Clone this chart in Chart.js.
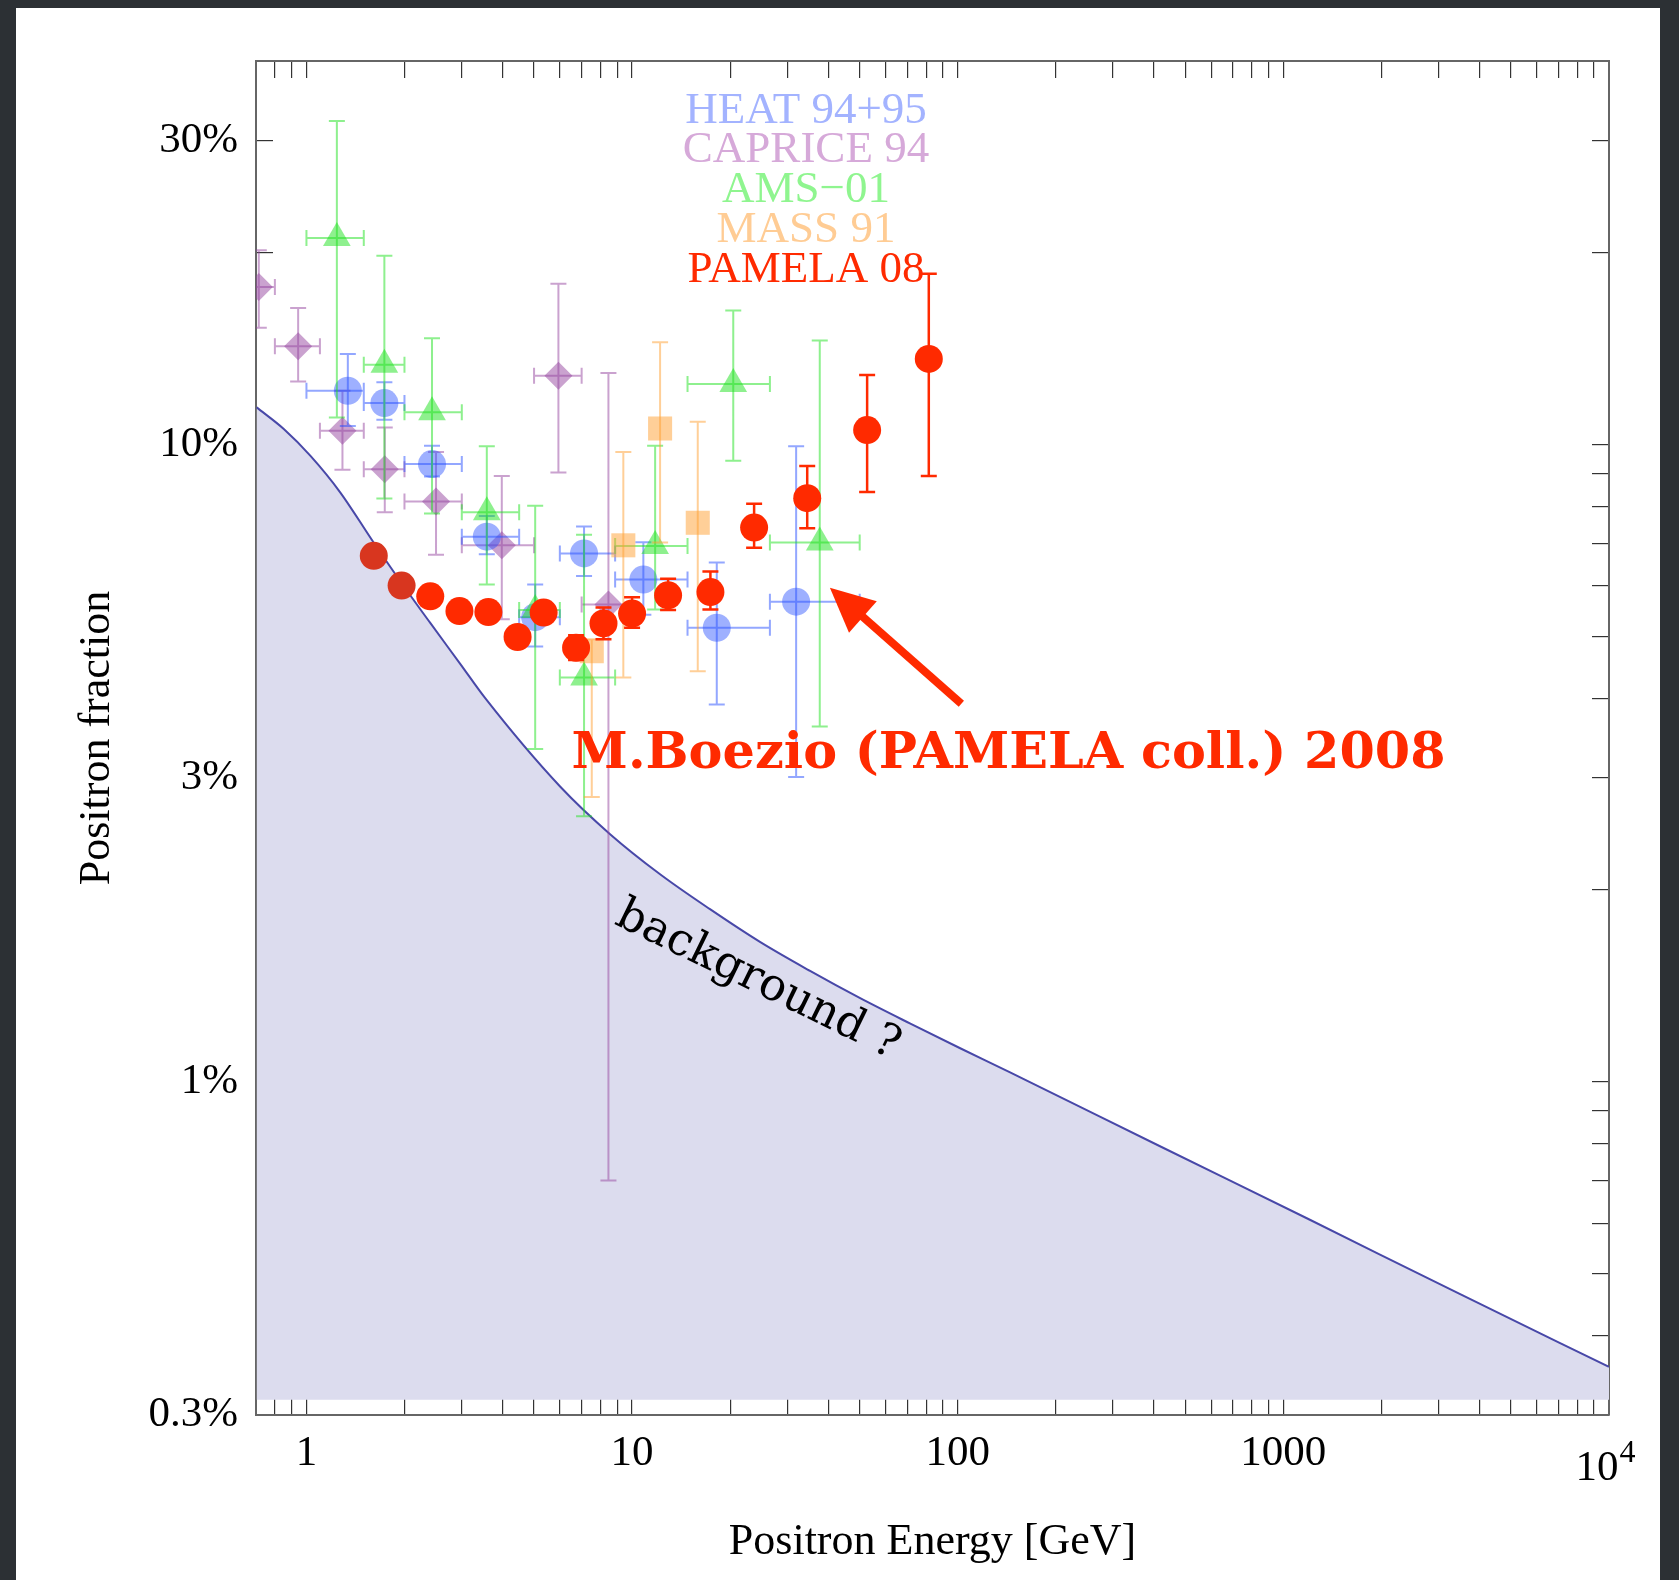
<!DOCTYPE html>
<html>
<head>
<meta charset="utf-8">
<script src="https://cdn.jsdelivr.net/npm/chart.js@4.4.1/dist/chart.umd.min.js"></script>
<style>
html,body{margin:0;padding:0;}
body{width:1679px;height:1580px;background:#2c3034;position:relative;overflow:hidden;}
#panel{position:absolute;left:16px;top:8px;width:1644px;height:1572px;background:#fff;}
canvas{display:block;}
</style>
</head>
<body>
<div id="panel"><canvas id="positronChart" width="1644" height="1572"></canvas></div>
<script>

// =========================
// DATOS (energia en GeV, fraccion en %)
// =========================

const pamelaE  = [1.61, 1.96, 2.40, 2.95, 3.62, 4.45, 5.35, 6.73, 8.17, 10.0, 12.9, 17.4, 23.7, 34.5, 52.7, 81.5];
const pamelaP  = [6.69, 6.01, 5.78, 5.48, 5.46, 4.99, 5.45, 4.80, 5.24, 5.43, 5.80, 5.87, 7.41, 8.24, 10.54, 13.63];
const pamelaLo = [null, null, null, null, null, null, null, 4.59, 4.95, 5.16, 5.50, 5.51, 6.89, 7.39, 8.43, 8.93];
const pamelaHi = [null, null, null, null, null, null, null, 5.02, 5.55, 5.76, 6.16, 6.32, 8.08, 9.26, 12.86, 18.54];

const heatE   = [1.34, 1.735, 2.43, 3.58, 5.04, 7.12, 10.83, 18.2, 31.9];
const heatP   = [12.15, 11.62, 9.32, 7.17, 5.36, 6.75, 6.14, 5.16, 5.67];
const heatELo = [1.0, 1.5, 2.0, 3.0, 4.5, 6.0, 8.87, 14.8, 26.5];
const heatEHi = [1.5, 2.0, 3.0, 4.5, 6.0, 8.87, 14.8, 26.5, 50];
const heatLo  = [10.7, 10.94, 8.91, 6.73, 4.82, 6.22, 5.41, 3.91, 3.01];
const heatHi  = [13.87, 12.53, 9.96, 7.73, 6.03, 7.44, 7.03, 6.53, 9.94];

const capriceE   = [0.714, 0.943, 1.29, 1.74, 2.50, 3.98, 5.94, 8.46];
const capriceP   = [17.67, 14.27, 10.51, 9.15, 8.14, 6.95, 12.83, 5.61];
const capriceELo = [0.62, 0.80, 1.10, 1.5, 2.0, 3.0, 5.0, 7.0];
const capriceEHi = [0.80, 1.10, 1.5, 2.0, 3.0, 5.0, 7.0, 10.0];
const capriceLo  = [15.25, 12.56, 9.13, 7.83, 6.72, 5.32, 9.04, 0.70];
const capriceHi  = [20.18, 16.38, 12.15, 10.64, 9.74, 8.93, 17.88, 12.95];

const amsE   = [1.24, 1.735, 2.43, 3.58, 5.04, 7.12, 11.77, 20.45, 37.7];
const amsP   = [21.1, 13.35, 11.24, 7.83, 5.50, 4.31, 6.93, 12.45, 7.02];
const amsELo = [1.0, 1.5, 2.0, 3.0, 4.5, 6.0, 8.87, 14.8, 26.5];
const amsEHi = [1.5, 2.0, 3.0, 4.5, 6.0, 8.87, 14.8, 26.5, 50];
const amsLo  = [11.03, 8.23, 7.80, 6.03, 3.33, 2.61, 5.51, 9.43, 3.61];
const amsHi  = [32.2, 19.79, 14.69, 9.94, 8.02, 7.22, 9.96, 16.24, 14.57];

const massE  = [7.52, 9.40, 12.19, 15.91];
const massP  = [4.74, 6.95, 10.60, 7.54];
const massLo = [2.80, 4.31, 7.02, 4.41];
const massHi = [4.95, 9.74, 14.48, 10.86];

const backgroundE = [0.703, 0.852, 1.029, 1.271, 1.608, 1.988, 2.40, 2.97, 3.54, 6.01, 8.56, 12.19,
                     17.35, 24.7, 35.2, 50.0, 71.3, 101.4, 144.3, 416.5, 1202, 3466, 10000];
const backgroundP = [11.44, 10.58, 9.60, 8.41, 7.02, 6.00, 5.25, 4.525, 4.00, 2.907, 2.447, 2.117,
                     1.866, 1.658, 1.493, 1.354, 1.235, 1.130, 1.036, 0.793, 0.608, 0.465, 0.357];

const legendNames = ["HEAT 94+95", "CAPRICE 94", "AMS\u221201", "MASS 91", "PAMELA 08"];

const xTickValues = [1, 10, 100, 1000];
const xTickLabels = ["1", "10", "100", "1000"];
const yTickValues = [0.3, 1, 3, 10, 30];
const yTickLabels = ["0.3%", "1%", "3%", "10%", "30%"];

// =========================
// AYUDAS
// =========================

const serif = '"Liberation Serif", "Times New Roman", serif';
const slab = '"DejaVu Serif", serif';

function points(xs, ys){
    return xs.map((x, i) => ({x: x, y: ys[i]}));
}

function bars(xLo, xHi, yLo, yHi){
    return yLo.map((_, i) => ({
        xLo: xLo ? xLo[i] : null,
        xHi: xHi ? xHi[i] : null,
        yLo: yLo[i],
        yHi: yHi[i]
    }));
}

function logTicks(lo, hi){
    const out = [];
    for (let d = -1; d <= 4; d++){
        for (let m = 1; m <= 9; m++){
            const v = +(m * Math.pow(10, d)).toPrecision(3);
            if (v >= lo && v <= hi) out.push(v);
        }
    }
    return out;
}

const xMin = 0.7, xMax = 10000;
const yMin = 0.3, yMax = 40;

// =========================
// PLUGINS
// =========================

const errorBars = {
    id: "errorBars",
    beforeDatasetDraw(chart, args){
        const ds = chart.data.datasets[args.index];
        if (!ds.errorBars) return;
        const ctx = chart.ctx, a = chart.chartArea;
        const xs = chart.scales.x, ys = chart.scales.y;
        const cap = ds.capSize;
        ctx.save();
        ctx.beginPath();
        ctx.rect(a.left, a.top, a.right - a.left, a.bottom - a.top);
        ctx.clip();
        ctx.beginPath();
        ds.errorBars.forEach((e, i) => {
            const px = xs.getPixelForValue(ds.data[i].x);
            const py = ys.getPixelForValue(ds.data[i].y);
            if (e.yLo != null){
                const y1 = ys.getPixelForValue(e.yLo), y2 = ys.getPixelForValue(e.yHi);
                ctx.moveTo(px, y1); ctx.lineTo(px, y2);
                ctx.moveTo(px - cap, y1); ctx.lineTo(px + cap, y1);
                ctx.moveTo(px - cap, y2); ctx.lineTo(px + cap, y2);
            }
            if (e.xLo != null){
                const x1 = xs.getPixelForValue(e.xLo), x2 = xs.getPixelForValue(e.xHi);
                ctx.moveTo(x1, py); ctx.lineTo(x2, py);
                ctx.moveTo(x1, py - cap); ctx.lineTo(x1, py + cap);
                ctx.moveTo(x2, py - cap); ctx.lineTo(x2, py + cap);
            }
        });
        ctx.strokeStyle = ds.errorColor;
        ctx.lineWidth = ds.errorWidth;
        ctx.stroke();
        ctx.restore();
    }
};

const annotations = {
    id: "annotations",
    afterDraw(chart){
        const ctx = chart.ctx, a = chart.chartArea;
        const xs = chart.scales.x, ys = chart.scales.y;
        ctx.save();

        // leyenda de colores
        const legendColors = ["#a3b3ff", "#d6a9d9", "#8ff58f", "#ffcc94", "#ff2a00"];
        const legendRows = [62, 101, 141, 181, 221];
        ctx.font = "45px " + serif;
        ctx.textAlign = "center";
        ctx.textBaseline = "alphabetic";
        legendNames.forEach((t, i) => {
            ctx.fillStyle = legendColors[i];
            ctx.fillText(t, xs.getPixelForValue(34.2), a.top + legendRows[i]);
        });

        // 10^4
        const px4 = xs.getPixelForValue(10000);
        ctx.fillStyle = "#000";
        ctx.font = "43px " + serif;
        ctx.textAlign = "center";
        const w10 = ctx.measureText("10").width;
        ctx.fillText("10", px4 - 12, xs.top + 65);
        ctx.font = "32px " + serif;
        ctx.textAlign = "left";
        ctx.fillText("4", px4 - 12 + w10 / 2 + 1, xs.top + 47);

        // flecha
        const tx = xs.getPixelForValue(102.6), ty = ys.getPixelForValue(3.92);
        const hx = xs.getPixelForValue(40.5), hy = ys.getPixelForValue(5.96);
        const ang = Math.atan2(hy - ty, hx - tx);
        const headLen = 44, headW = 21;
        const bx = hx - Math.cos(ang) * headLen, by = hy - Math.sin(ang) * headLen;
        ctx.strokeStyle = "#ff2a00";
        ctx.fillStyle = "#ff2a00";
        ctx.lineWidth = 8;
        ctx.beginPath();
        ctx.moveTo(tx, ty);
        ctx.lineTo(bx + Math.cos(ang) * 4, by + Math.sin(ang) * 4);
        ctx.stroke();
        ctx.beginPath();
        ctx.moveTo(hx, hy);
        ctx.lineTo(bx + Math.sin(ang) * headW, by - Math.cos(ang) * headW);
        ctx.lineTo(bx - Math.sin(ang) * headW, by + Math.cos(ang) * headW);
        ctx.closePath();
        ctx.fill();

        // autor
        ctx.font = "bold 51px " + slab;
        ctx.textAlign = "left";
        ctx.fillText("M.Boezio (PAMELA coll.) 2008", xs.getPixelForValue(6.52), ys.getPixelForValue(3.11), 874);

        // background ?
        ctx.translate(xs.getPixelForValue(24.3), ys.getPixelForValue(1.44));
        ctx.rotate(26 * Math.PI / 180);
        ctx.font = "45px " + slab;
        ctx.textAlign = "center";
        ctx.textBaseline = "middle";
        ctx.fillStyle = "#000";
        ctx.fillText("background ?", 0, 0, 310);

        ctx.restore();
    }
};

// =========================
// EJES
// =========================

const xTicks = logTicks(0.8, 10000);
const yTicks = logTicks(0.3, 40);

const tickGrid = {
    drawOnChartArea: false,
    drawTicks: true,
    tickLength: -17,
    color: "#333",
    lineWidth: 1.2
};

const frame = {
    display: true,
    color: "#666",
    width: 2
};

function fixWidth(w){
    return s => { s.width = w; s.paddingTop = 0; s.paddingBottom = 0; };
}

function fixHeight(h){
    return s => { s.height = h; s.paddingLeft = 0; s.paddingRight = 0; };
}

// =========================
// GRAFICO
// =========================

new Chart(
document.getElementById("positronChart"),
{

    type: "scatter",

    data: {

        datasets: [

            {
                label: "PAMELA 08",
                data: points(pamelaE, pamelaP),
                errorBars: bars(null, null, pamelaLo, pamelaHi),
                errorColor: "#ff2a00",
                errorWidth: 2.5,
                capSize: 8,
                pointStyle: "circle",
                pointRadius: 14,
                pointBorderWidth: 0,
                pointBackgroundColor: pamelaE.map((_, i) => i < 2 ? "#d8361f" : "#ff2a00"),
                order: 0
            },

            {
                label: "MASS 91",
                data: points(massE, massP),
                errorBars: bars(null, null, massLo, massHi),
                errorColor: "rgba(255,160,50,0.5)",
                errorWidth: 2,
                capSize: 8,
                pointStyle: "rect",
                pointRadius: 17,
                pointBorderWidth: 0,
                pointBackgroundColor: "rgba(255,160,50,0.5)",
                order: 1
            },

            {
                label: "AMS-01",
                data: points(amsE, amsP),
                errorBars: bars(amsELo, amsEHi, amsLo, amsHi),
                errorColor: "rgba(30,225,30,0.5)",
                errorWidth: 2,
                capSize: 8,
                pointStyle: "triangle",
                pointRadius: 16,
                pointBorderWidth: 0,
                pointBackgroundColor: "rgba(30,225,30,0.5)",
                order: 2
            },

            {
                label: "HEAT 94+95",
                data: points(heatE, heatP),
                errorBars: bars(heatELo, heatEHi, heatLo, heatHi),
                errorColor: "rgba(40,80,255,0.5)",
                errorWidth: 2,
                capSize: 8,
                pointStyle: "circle",
                pointRadius: 14,
                pointBorderWidth: 0,
                pointBackgroundColor: "rgba(40,80,255,0.45)",
                order: 3
            },

            {
                label: "CAPRICE 94",
                data: points(capriceE, capriceP),
                errorBars: bars(capriceELo, capriceEHi, capriceLo, capriceHi),
                errorColor: "rgba(150,70,160,0.5)",
                errorWidth: 2,
                capSize: 8,
                pointStyle: "rectRot",
                pointRadius: 14,
                pointBorderWidth: 0,
                pointBackgroundColor: "rgba(150,70,160,0.5)",
                order: 4
            },

            {
                label: "background",
                data: points(backgroundE, backgroundP),
                showLine: true,
                borderColor: "#4848a8",
                borderWidth: 2,
                backgroundColor: "rgb(220,220,238)",
                fill: {value: 0.317},
                cubicInterpolationMode: "monotone",
                pointRadius: 0,
                order: 10
            }
        ]
    },

    options: {

        responsive: false,
        animation: false,
        devicePixelRatio: 1,

        layout: {
            padding: 0
        },

        plugins: {
            legend: {display: false},
            tooltip: {enabled: false}
        },

        scales: {

            x: {
                type: "logarithmic",
                position: "bottom",
                min: xMin,
                max: xMax,
                z: 1,
                afterBuildTicks: s => { s.ticks = xTicks.map(v => ({value: v})); },
                afterFit: fixHeight(165),
                grid: tickGrid,
                border: frame,
                ticks: {
                    autoSkip: false,
                    maxRotation: 0,
                    padding: 30,
                    color: "#000",
                    font: {family: serif, size: 43, lineHeight: 1.2},
                    callback: v => {
                        const i = xTickValues.indexOf(v);
                        return i < 0 ? "" : xTickLabels[i];
                    }
                },
                title: {
                    display: true,
                    text: "Positron Energy [GeV]",
                    color: "#000",
                    font: {family: serif, size: 44, lineHeight: 1.2},
                    padding: {top: 0, bottom: 11}
                }
            },

            x2: {
                type: "logarithmic",
                position: "top",
                min: xMin,
                max: xMax,
                z: 1,
                afterBuildTicks: s => { s.ticks = xTicks.map(v => ({value: v})); },
                afterFit: fixHeight(53),
                grid: tickGrid,
                border: frame,
                ticks: {display: false}
            },

            y: {
                type: "logarithmic",
                position: "left",
                min: yMin,
                max: yMax,
                z: 1,
                afterBuildTicks: s => { s.ticks = yTicks.map(v => ({value: v})); },
                afterFit: fixWidth(240),
                grid: tickGrid,
                border: frame,
                ticks: {
                    autoSkip: false,
                    padding: 35,
                    color: "#000",
                    font: {family: serif, size: 43, lineHeight: 1.2},
                    callback: v => {
                        const i = yTickValues.indexOf(v);
                        return i < 0 ? "" : yTickLabels[i];
                    }
                },
                title: {
                    display: true,
                    text: "Positron fraction",
                    color: "#000",
                    font: {family: serif, size: 44, lineHeight: 1.2},
                    padding: {top: 55, bottom: 0}
                }
            },

            y2: {
                type: "logarithmic",
                position: "right",
                min: yMin,
                max: yMax,
                z: 1,
                afterBuildTicks: s => { s.ticks = yTicks.map(v => ({value: v})); },
                afterFit: fixWidth(51),
                grid: tickGrid,
                border: frame,
                ticks: {display: false}
            }
        }
    },

    plugins: [errorBars, annotations]
});

</script>
</body>
</html>
